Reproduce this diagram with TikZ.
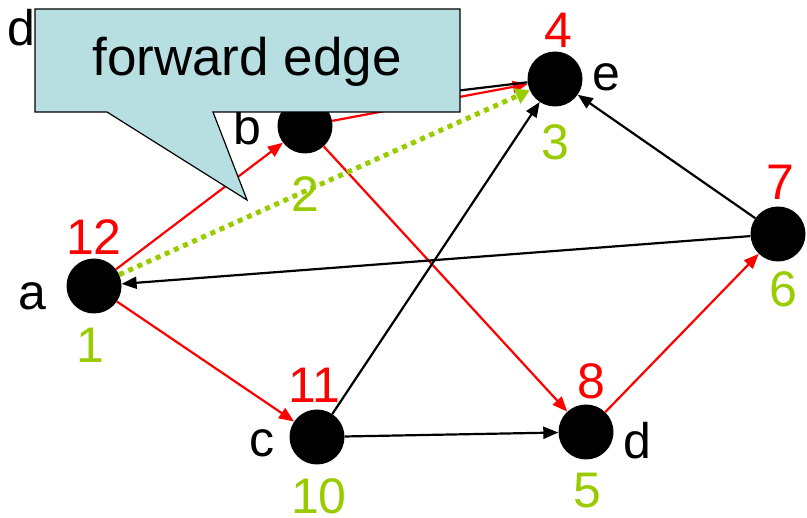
\documentclass[tikz,border=0pt]{standalone}
\usepackage{fontspec}
\setmainfont{Liberation Sans}
\usetikzlibrary{arrows.meta}
\definecolor{callfill}{HTML}{B7DFE2}
\definecolor{grn}{HTML}{99CC00}
\tikzset{
  vtx/.style={circle,fill=black,inner sep=0pt,minimum size=55pt},
  lbl/.style={font=\fontsize{50}{60}\selectfont,inner sep=0pt,anchor=base},
  red num/.style={lbl,text=red},
  grn num/.style={lbl,text=grn},
  tip/.style={-{Triangle[length=15pt,width=12pt]}},
  treeedge/.style={tip,draw=red,fill=red,line width=2.2pt},
  blkedge/.style={tip,draw=black,fill=black,line width=2.2pt},
  fwdedge/.style={-{Triangle[length=14pt,width=16pt]},draw=grn,fill=grn,line width=5pt,dash pattern=on 5pt off 5pt},
}
\begin{document}
\begin{tikzpicture}[x=1pt,y=-1pt]
\useasboundingbox (0,0) rectangle (807,518);
% vertices
\node[vtx] (a) at (94,286) {};
\node[vtx] (b) at (305,126) {};
\node[vtx] (e) at (555,79) {};
\node[vtx] (f) at (778,234) {};
\node[vtx] (c) at (317,437) {};
\node[vtx] (d) at (586,432) {};
\coordinate (hid) at (380,100);
% labels
\node[lbl] (la) at (32,310) {a};
\node[lbl] (lb) at (247,145) {b};
\node[lbl] (le) at (606,91) {e};
\node[lbl] (lc) at (262,457) {c};
\node[lbl] (ld) at (637,459) {d};
\node[lbl,anchor=base east] (ltl) at (36,46) {d};
\node[red num] (pa) at (94,255) {12};
\node[grn num] (qa) at (90,363) {1};
\node[grn num] (qb) at (305,212) {2};
\node[red num] (pe) at (558,48) {4};
\node[grn num] (qe) at (555,160) {3};
\node[red num] (pf) at (780,200) {7};
\node[grn num] (qf) at (783,307) {6};
\node[red num] (pc) at (314,403) {11};
\node[grn num] (qc) at (319,514) {10};
\node[red num] (pd) at (591,399) {8};
\node[grn num] (qd) at (587,508) {5};
% edges
\draw[treeedge] (a) -- (b);
\draw[treeedge] (a) -- (c);
\draw[treeedge] (b) -- (e);
\draw[treeedge] (b) -- (d);
\draw[treeedge] (d) -- (f);
\draw[blkedge] (c) -- (e);
\draw[blkedge] (c) -- (d);
\draw[blkedge] (f) -- (e);
\draw[blkedge] (f) -- (a);
\draw[line width=2.2pt] (hid) -- (e);
\draw[fwdedge] (a) -- (e);
% callout
\draw[fill=callfill,line width=1.2pt,line join=miter]
  (35,9) -- (460,9) -- (460,112) -- (213,112) -- (247,200) -- (107,112) -- (35,112) -- cycle;
\node[lbl,anchor=center,font=\fontsize{53}{60}\selectfont] (call) at (247,62) {forward edge};
\end{tikzpicture}
\end{document}
